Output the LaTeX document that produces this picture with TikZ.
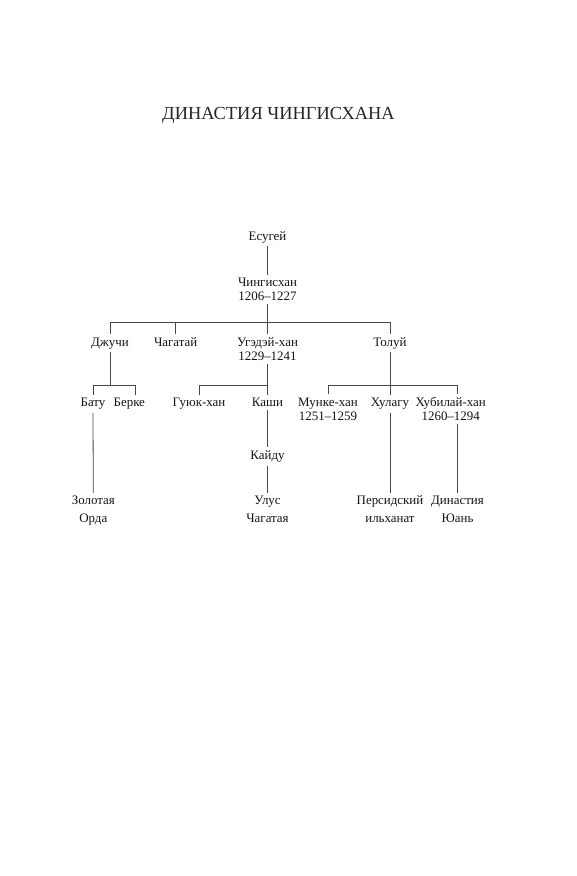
\documentclass[tikz,border=0pt]{standalone}
\usepackage{fontspec}
\setmainfont{Liberation Serif}
\usetikzlibrary{calc}
\begin{document}
\begin{tikzpicture}[x=0.75pt,y=-0.75pt,
  person/.style={anchor=base, inner sep=2.5pt, align=center, text=black!92,
    font=\fontsize{9.7}{10.5}\selectfont},
  place/.style={person, font=\fontsize{9.7}{13.3}\selectfont},
  heading/.style={anchor=base, inner sep=0pt, text=black!85,
    font=\fontsize{13.8}{15}\selectfont},
  link/.style={draw=black!72, line width=0.6pt}]
\useasboundingbox (0,0) rectangle (577,876);
\fill[white] (0,0) rectangle (577,876);
\node[heading] (title) at (278.5,119.3) {ДИНАСТИЯ ЧИНГИСХАНА};
% generations (base anchor = baseline of the last line)
\node[person] (esugei) at (267.5,240) {Есугей};
\node[person] (ching) at (267.5,300.7) {Чингисхан\\1206–1227};
\node[person] (dzhuchi) at (110,346) {Джучи};
\node[person] (chagatai) at (175.7,346) {Чагатай};
\node[person] (ugedei) at (267.5,360) {Угэдэй-хан\\1229–1241};
\node[person] (tolui) at (390,346) {Толуй};
\node[person] (batu) at (93,406.7) {Бату};
\node[person] (berke) at (129.3,406.7) {Берке};
\node[person] (guyuk) at (199,406.7) {Гуюк-хан};
\node[person] (kashi) at (267.5,406.7) {Каши};
\node[person] (munke) at (328,420.5) {Мунке-хан\\1251–1259};
\node[person] (hulagu) at (390,406.7) {Хулагу};
\node[person] (hubilai) at (450.7,420.5) {Хубилай-хан\\1260–1294};
\node[person] (kaidu) at (267.5,459.3) {Кайду};
\node[place] (zolotaya) at (93.3,522.7) {Золотая\\Орда};
\node[place] (ulus) at (267.5,522.7) {Улус\\Чагатая};
\node[place] (persian) at (390,522.7) {Персидский\\ильханат};
\node[place] (dynasty) at (457.5,522.7) {Династия\\Юань};
% bars
\coordinate (topbar) at (267.5,322.7);
\coordinate (jbar) at (110,385);
\coordinate (ubar) at (267.5,385);
\coordinate (tbar) at (390,385);
\coordinate (berkeTop) at ($(berke.north)+(5.7,0)$);
\coordinate (hubTop) at (hubilai.north -| dynasty.north);
\coordinate (hubBot) at (hubilai.south -| dynasty.north);
% connectors
\draw[link] (esugei) -- (ching);
\draw[link] (dzhuchi.north) -- (dzhuchi.north |- topbar) -- (tolui.north |- topbar) -- (tolui.north);
\draw[link] (chagatai.north) -- (chagatai.north |- topbar);
\draw[link] (ching.south) -- (ugedei.north);
\draw[link] (dzhuchi.south) -- (jbar);
\draw[link] (batu.north) -- (batu.north |- jbar) -- (berkeTop |- jbar) -- (berkeTop);
\draw[link] (batu.south) -- (zolotaya.north);
\draw[link] (guyuk.north) -- (guyuk.north |- ubar) -- (ubar);
\draw[link] (ugedei.south) -- (kashi.north);
\draw[link] (kashi.south) -- (kaidu.north);
\draw[link] (kaidu.south) -- (ulus.north);
\draw[link] (tolui.south) -- (hulagu.north);
\draw[link] (munke.north) -- (munke.north |- tbar) -- (hubTop |- tbar) -- (hubTop);
\draw[link] (hulagu.south) -- (persian.north);
\draw[link] (hubBot) -- (dynasty.north);
\end{tikzpicture}
\end{document}
